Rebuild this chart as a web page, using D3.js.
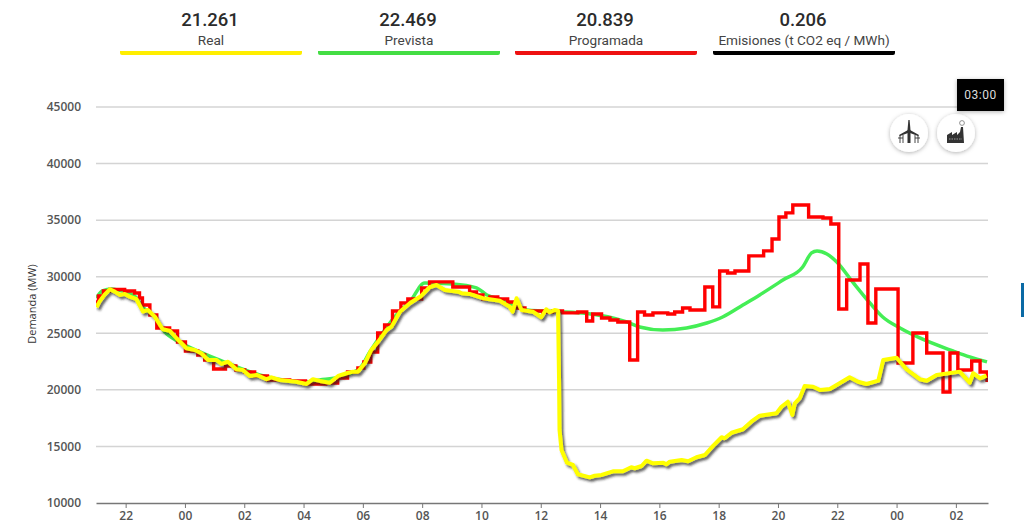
<!DOCTYPE html>
<html>
<head>
<meta charset="utf-8">
<script src="https://cdn.jsdelivr.net/npm/d3@7"></script>
<style>
  html, body { margin: 0; padding: 0; background: #fff; overflow: hidden; }
  svg { display: block; }
  .grid line { stroke: #d4d4d4; stroke-width: 1.5px; }
  .tick text { font-family: "Open Sans", sans-serif; font-size: 12px; font-weight: 600; fill: #555; }
  .big { font-family: Roboto, sans-serif; font-size: 18.5px; font-weight: 500; fill: #2b2b2b; text-anchor: middle; }
  .small { font-family: Roboto, sans-serif; font-size: 13.6px; fill: #444; text-anchor: middle; }
</style>
</head>
<body>
<div id="chart"></div>
<script>
// minutes counted from 00:00 of the first day
var realMin = [1261,1267,1277,1288,1298,1308,1318,1328,1342,1355,1365,1379,1395,1409,1423,1443,1460,1473,1487,1504,1514,1527,1544,1557,1571,1585,1605,1615,1632,1665,1686,1699,1713,1733,1750,1767,1780,1790,1804,1817,1831,1848,1858,1875,1895,1918,1935,1949,1966,1993,2000,2016,2043,2077,2097,2103,2111,2121,2144,2161,2171,2178,2188,2195,2197,2198,2202,2213,2225,2235,2259,2269,2283,2306,2326,2343,2350,2364,2374,2387,2408,2414,2421,2445,2458,2475,2492,2509,2526,2532,2546,2569,2586,2603,2637,2647,2660,2669,2674,2684,2694,2711,2725,2745,2785,2802,2819,2843,2853,2880,2900,2927,2941,2961,3008,3028,3035,3049,3062];
var realVal = [27300,27800,28390,28890,28680,28390,28480,28240,28010,26910,27060,26470,25360,25230,24560,23680,23530,23230,22640,22640,22290,22490,21820,21760,21230,21320,20940,21110,20870,20720,20520,20940,20790,20630,21230,21470,21610,21610,22350,23530,24260,25290,25590,26910,27650,28300,29070,29270,28830,28680,28540,28480,28100,27880,27350,26910,28100,27060,26910,26420,27120,26860,27060,27000,20870,16450,14690,13560,13360,12540,12270,12410,12480,12800,12800,13160,13070,13270,13740,13510,13560,13420,13650,13800,13690,14040,14240,15070,15810,15720,16210,16520,17190,17720,17930,18510,18950,17780,18810,19260,20340,20280,19990,20080,21110,20720,20520,20810,22640,22840,21820,20940,20810,21320,21610,20630,21470,21020,21261];

var prevMin = [1261,1273,1292,1318,1338,1354,1379,1399,1429,1470,1530,1591,1652,1682,1713,1753,1794,1814,1844,1875,1895,1925,1982,2030,2051,2083,2132,2164,2245,2334,2360,2407,2455,2496,2528,2569,2603,2650,2690,2708,2719,2739,2759,2791,2826,2852,2887,2927,2994,3028,3063];
var prevVal = [28120,28740,28920,28650,28300,27330,26440,25120,24230,23350,22290,21320,20790,20700,20870,21140,21930,23350,25290,26970,27770,29450,29360,29010,28390,27950,27060,26970,26800,26000,25560,25290,25470,25910,26440,27500,28390,29710,30860,32100,32280,32010,31300,29540,27680,26440,25470,24590,23440,22910,22469];

var progMin = [1259,1265,1275,1288,1318,1338,1348,1354,1369,1383,1409,1425,1441,1466,1480,1498,1522,1543,1561,1581,1607,1652,1684,1725,1749,1769,1790,1802,1816,1830,1844,1860,1877,1891,1919,1935,1982,2016,2030,2043,2057,2073,2093,2111,2128,2164,2184,2204,2235,2253,2265,2283,2300,2316,2340,2356,2370,2387,2417,2431,2447,2462,2492,2508,2522,2538,2553,2581,2611,2628,2642,2656,2670,2702,2731,2747,2763,2779,2806,2822,2838,2883,2913,2941,2974,2988,3004,3032,3049,3063,3065];
var progVal = [27770,28300,28740,28870,28740,28560,28120,27500,26620,25470,25200,24230,23440,23080,22640,21850,22110,21760,21580,21230,20870,20790,20520,20610,21050,21580,21930,22460,23350,25030,25740,26970,27680,28030,29010,29540,29090,28650,28390,28030,28210,28030,27770,27240,26970,26880,26970,26800,26880,26090,26710,26350,26180,26000,22640,26880,26620,26800,26710,26880,27240,27060,29090,27330,30510,30330,30510,31840,32280,33340,35280,35640,36340,35280,35190,34660,27150,29710,31130,25910,28920,22380,25030,23260,19810,23260,21760,22550,21580,20839,20839];

var yTicks = [10000,15000,20000,25000,30000,35000,40000,45000];
var legendValues = ["21.261","22.469","20.839","0.206"];
var legendNames = ["Real","Prevista","Programada","Emisiones (t CO2 eq / MWh)"];
var legendColors = ["#ffee00","#44dd44","#ee1111","#000000"];

var day0 = new Date(2020, 0, 1, 0, 0);
function toDate(m) { return d3.timeMinute.offset(day0, m); }

var margin = {top: 107, left: 96, right: 36, bottom: 28};
var width = 1024 - margin.left - margin.right,
    height = 531 - margin.top - margin.bottom;

var svg = d3.select("#chart").append("svg")
  .attr("width", 1024)
  .attr("height", 531);

var defs = svg.append("defs");
var shadow = defs.append("filter").attr("id", "shadow")
  .attr("x", "-5%").attr("y", "-5%").attr("width", "110%").attr("height", "110%");
shadow.append("feDropShadow")
  .attr("dx", 2).attr("dy", 2.5).attr("stdDeviation", 1.3)
  .attr("flood-color", "#222").attr("flood-opacity", 0.7);
var soft = defs.append("filter").attr("id", "soft")
  .attr("x", "-30%").attr("y", "-30%").attr("width", "160%").attr("height", "160%");
soft.append("feDropShadow")
  .attr("dx", 0).attr("dy", 1).attr("stdDeviation", 2)
  .attr("flood-color", "#000").attr("flood-opacity", 0.3);
defs.append("clipPath").attr("id", "plot").append("rect")
  .attr("x", 0).attr("y", -10).attr("width", width).attr("height", height + 10);

var g = svg.append("g").attr("transform", "translate(" + margin.left + "," + margin.top + ")");

var x = d3.scaleTime()
  .domain([toDate(1260), toDate(3065)])
  .range([0, width]);
var y = d3.scaleLinear()
  .domain([10000, 45000])
  .range([height - 0, 0]);

// gridlines
g.append("g").attr("class", "grid")
  .selectAll("line")
  .data(yTicks.slice(1))
  .enter().append("line")
  .attr("x1", 0).attr("x2", width)
  .attr("y1", function(d) { return y(d); })
  .attr("y2", function(d) { return y(d); });

// y axis, labels only
var yAxis = g.append("g")
  .call(d3.axisLeft(y).tickValues(yTicks).tickSize(0).tickPadding(15).tickFormat(d3.format("d")));
yAxis.select(".domain").remove();

// x axis
var xAxis = g.append("g")
  .attr("transform", "translate(0," + height + ")")
  .call(d3.axisBottom(x).ticks(d3.timeHour.every(2)).tickFormat(d3.timeFormat("%H")).tickSize(5).tickPadding(3).tickSizeOuter(0));
xAxis.select(".domain").attr("stroke", "#777").attr("stroke-width", 1.5);
xAxis.selectAll(".tick line").attr("stroke", "#777");

g.append("text")
  .attr("transform", "rotate(-90)")
  .attr("x", -(height / 2) + 1)
  .attr("y", -60)
  .style("font-family", "'Open Sans', sans-serif")
  .style("font-size", "11px")
  .style("fill", "#333")
  .style("text-anchor", "middle")
  .text("Demanda (MW)");

function series(mins, vals, curve) {
  return d3.line()
    .x(function(d) { return x(toDate(d[0])); })
    .y(function(d) { return y(d[1]); })
    .curve(curve)(d3.zip(mins, vals));
}

var lines = g.append("g").attr("clip-path", "url(#plot)");

lines.append("path")
  .attr("d", series(prevMin, prevVal, d3.curveMonotoneX))
  .attr("fill", "none").attr("stroke", "#44ee55").attr("stroke-width", 3.5);

lines.append("path")
  .attr("d", series(progMin, progVal, d3.curveStepAfter))
  .attr("fill", "none").attr("stroke", "#ff0000").attr("stroke-width", 3.4);

lines.append("path")
  .attr("d", series(realMin, realVal, d3.curveLinear))
  .attr("fill", "none").attr("stroke", "#ffff00").attr("stroke-width", 4)
  .attr("stroke-linejoin", "round")
  .attr("filter", "url(#shadow)");

// header with the current values
var legendX = [120, 318, 515, 713];
var legend = svg.selectAll(".legend")
  .data(legendNames)
  .enter().append("g")
  .attr("class", "legend")
  .attr("transform", function(d, i) { return "translate(" + legendX[i] + ",0)"; });
legend.append("text").attr("class", "big")
  .attr("x", 90).attr("y", 26)
  .text(function(d, i) { return legendValues[i]; });
legend.append("text").attr("class", "small")
  .attr("x", 91).attr("y", 45)
  .text(function(d) { return d; });
legend.append("path")
  .attr("d", "M0,51H182V53a2,2 0 0 1 -2,2H2a2,2 0 0 1 -2,-2Z")
  .attr("fill", function(d, i) { return legendColors[i]; });

// round buttons
var btnWind = svg.append("g").attr("transform", "translate(909,133)");
var btnFactory = svg.append("g").attr("transform", "translate(956,133)");
[btnWind, btnFactory].forEach(function(b) {
  b.append("circle").attr("r", 19).attr("fill", "#fff").attr("filter", "url(#soft)");
});
btnWind.append("path")
  .attr("d", "M-0.6,-13L0.6,-13L1.5,-3L1.5,10L-1.5,10L-1.5,-3Z")
  .attr("fill", "#333");
btnWind.append("path")
  .attr("d", "M-10,2L-1,-3L1,-3L10,2L9,3L1,0L-1,0L-9,3Z")
  .attr("fill", "#333");
btnWind.append("path")
  .attr("d", "M-9,2V10M-11,5H-6M9,2V10M6,5H11M-6,2V10M6,2V10")
  .attr("fill", "none").attr("stroke", "#333").attr("stroke-width", 0.9);
btnFactory.append("path")
  .attr("d", "M-9,10V2L-4,-1V2L1,-1V2L4,-1L5,-6H7L8,10Z")
  .attr("fill", "#333");
btnFactory.append("path")
  .attr("d", "M-7,6H6")
  .attr("stroke", "#999").attr("stroke-width", 1).attr("stroke-dasharray", "1.5,1");
btnFactory.append("circle")
  .attr("cx", 6).attr("cy", -10).attr("r", 2.4)
  .attr("fill", "#fff").attr("stroke", "#777").attr("stroke-width", 0.8);

// tooltip
var tip = svg.append("g").attr("transform", "translate(957,79)");
tip.append("rect").attr("width", 47).attr("height", 32).attr("fill", "#000")
  .attr("filter", "url(#soft)");
tip.append("text")
  .attr("x", 23.5).attr("y", 20)
  .style("font-family", "Roboto, sans-serif")
  .style("font-size", "12px")
  .style("letter-spacing", "0.5px")
  .style("fill", "#ddd")
  .style("text-anchor", "middle")
  .text("03:00");

// piece of a side tab at the window edge
svg.append("rect").attr("x", 1021).attr("y", 283).attr("width", 3).attr("height", 34).attr("fill", "#0a6aa5");
</script>
</body>
</html>
